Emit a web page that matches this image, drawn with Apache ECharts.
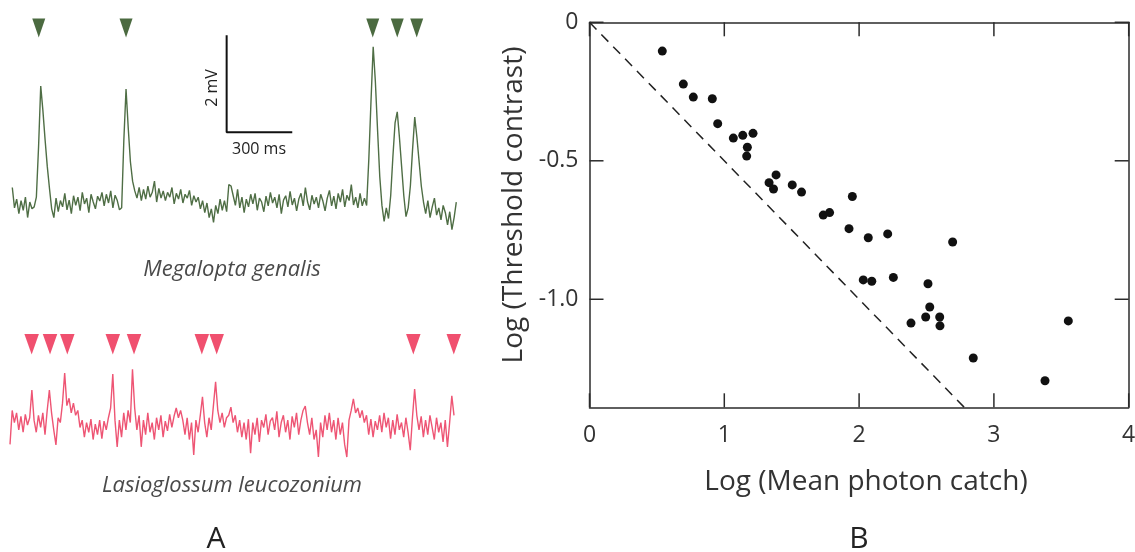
<!DOCTYPE html>
<html>
<head>
<meta charset="utf-8">
<script src="https://cdn.jsdelivr.net/npm/echarts@6/dist/echarts.min.js"></script>
<style>
html,body{margin:0;padding:0;background:#fff;}
#c{width:1135px;height:552px;}
</style>
</head>
<body>
<div id="c"></div>
<script>
// ---------- DATA ----------
// Panel A: membrane potential traces (mV relative to baseline), sampled every 10 ms
const traceStepMs = 10;
const megaloptaTrace = [
  0.32,-0.10,0.08,-0.22,0.05,-0.15,0.12,-0.30,0.02,-0.12,
  -0.08,0.12,1.15,2.41,1.90,1.30,0.75,0.30,-0.12,-0.30,
  0.10,-0.18,0.05,-0.08,0.20,-0.14,0.06,-0.22,0.15,-0.05,
  0.12,-0.16,0.22,-0.02,0.10,-0.20,0.18,0.02,-0.12,0.14,
  0.04,0.22,-0.06,0.18,0.00,0.25,-0.10,0.16,0.05,-0.14,
  -0.10,1.30,2.35,1.55,0.85,0.45,0.25,0.10,0.32,0.05,
  0.28,0.08,0.35,0.12,0.22,0.45,0.02,0.30,0.10,0.25,
  0.05,0.22,0.12,0.32,-0.02,0.20,0.08,0.28,0.00,0.18,
  0.10,0.26,-0.05,0.15,0.02,0.12,-0.12,0.05,-0.20,0.00,
  -0.30,-0.12,-0.40,-0.05,-0.22,0.08,-0.15,0.05,-0.18,0.38,
  0.35,0.15,-0.05,0.28,-0.10,0.12,-0.20,0.08,-0.08,0.18,
  -0.02,0.20,-0.15,0.10,0.02,-0.18,0.14,-0.06,0.22,0.00,
  0.12,-0.10,0.18,-0.22,0.06,0.15,-0.08,0.24,-0.04,0.10,
  -0.16,0.08,0.20,-0.06,0.32,0.02,-0.14,0.16,-0.02,0.12,
  -0.10,0.18,0.04,-0.16,0.10,0.26,-0.06,0.14,-0.12,0.20,
  0.02,0.28,-0.08,0.16,0.05,0.38,-0.04,0.12,-0.10,0.20,
  -0.06,0.10,-0.05,0.90,2.10,3.22,2.50,1.50,0.55,-0.05,
  -0.38,-0.10,-0.32,0.15,0.95,1.65,1.88,1.35,0.75,0.15,
  -0.28,-0.10,0.35,1.10,1.77,1.35,0.85,0.35,0.02,-0.22,
  0.05,-0.30,-0.08,0.10,-0.25,-0.10,-0.35,-0.05,-0.20,-0.45,
  -0.18,-0.55,-0.30,0.02
];
const lasioglossumTrace = [
  -0.40,0.30,0.05,0.25,-0.10,0.18,-0.15,0.22,0.00,0.15,
  0.72,0.10,-0.15,0.20,-0.05,0.25,-0.20,0.30,0.72,0.25,
  -0.10,-0.41,0.15,0.05,0.45,1.07,0.40,0.55,0.25,0.45,
  0.20,0.30,-0.05,0.10,-0.25,0.05,-0.15,0.12,-0.30,0.02,
  -0.20,0.10,-0.28,0.08,-0.10,0.15,0.35,1.05,0.10,-0.45,
  0.10,-0.25,0.25,-0.10,0.30,0.05,1.15,0.35,-0.10,0.20,
  -0.45,0.10,-0.20,0.25,-0.15,0.05,-0.30,0.15,-0.10,0.20,
  -0.25,0.08,-0.12,0.22,-0.05,0.18,0.35,0.15,0.30,0.10,
  -0.20,0.15,-0.30,0.05,-0.62,0.10,-0.15,0.20,0.58,0.05,
  -0.25,0.15,-0.10,0.40,0.89,0.30,0.05,0.25,-0.05,0.15,
  0.20,0.37,0.05,0.20,-0.15,0.10,-0.25,0.05,-0.30,0.12,
  -0.58,0.05,-0.20,0.15,-0.35,0.10,-0.05,0.22,-0.20,0.08,
  0.15,-0.10,0.28,-0.25,0.05,0.20,-0.15,0.10,-0.30,0.18,
  -0.05,0.25,-0.20,0.10,0.30,0.39,0.05,-0.20,0.15,-0.30,
  -0.10,-0.66,0.05,-0.25,0.20,-0.10,0.25,-0.15,0.10,-0.30,
  0.15,-0.20,0.05,-0.40,-0.66,0.10,0.30,0.54,0.25,0.35,
  0.15,0.30,0.05,0.20,-0.20,0.12,-0.25,0.08,-0.10,0.20,
  -0.15,0.25,-0.05,0.15,-0.28,0.10,-0.20,0.22,-0.10,0.05,
  -0.25,0.15,-0.15,-0.52,0.15,0.74,0.20,-0.10,0.18,-0.25,
  0.10,-0.20,0.20,-0.05,-0.30,0.15,-0.15,0.05,-0.35,0.10,
  -0.45,0.05,0.60,0.20
];
// spike markers (ms)
const megaloptaSpikes = [121, 520, 1648, 1760, 1849];
const lasioglossumSpikes = [99, 183, 262, 470, 567, 877, 945, 1844, 2029];
// scale bar: 300 ms x 2 mV
const scaleBarMs = 300;
const scaleBarMv = 2;
const speciesNames = ['Megalopta genalis', 'Lasioglossum leucozonium'];
const panelLabels = ['A', 'B'];

// Panel B: log mean photon catch vs log threshold contrast
const logPhotonCatch = [
  0.540,0.696,0.770,0.911,0.951,1.067,1.137,1.213,1.171,1.166,
  1.332,1.384,1.365,1.504,1.573,1.950,1.734,1.781,1.925,2.068,
  2.212,2.694,2.031,2.094,2.254,2.511,2.524,2.385,2.494,2.598,
  2.600,2.847,3.379,3.552
];
const logThresholdContrast = [
  -0.104,-0.223,-0.270,-0.276,-0.366,-0.418,-0.408,-0.401,-0.451,-0.483,
  -0.579,-0.551,-0.602,-0.587,-0.613,-0.629,-0.696,-0.687,-0.745,-0.778,
  -0.764,-0.793,-0.930,-0.935,-0.921,-0.944,-1.028,-1.086,-1.064,-1.064,
  -1.096,-1.212,-1.294,-1.078
];
const refLineX = [0, 2.78];
const refLineY = [0, -1.39];
const xTickValues = [0, 1, 2, 3, 4];
const xTickLabels = ['0', '1', '2', '3', '4'];
const yTickValues = [0, -0.5, -1.0];
const yTickLabels = ['0', '-0.5', '-1.0'];
const xTitle = 'Log (Mean photon catch)';
const yTitle = 'Log (Threshold contrast)';

// ---------- CHART ----------
const GREEN = '#4f6e45';
const PINK = '#ee5574';
const AX = '#2b2b2b';
const FONT = '"Open Sans", "Noto Sans", sans-serif';
const X_MIN = 0, X_MAX = 4, Y_MIN = -1.39, Y_MAX = 0;
const PLOT = {left: 589.5, top: 22.3, width: 539.2, height: 385};
const TICK_LEN = 14; // px
const tickDX = TICK_LEN * (X_MAX - X_MIN) / PLOT.width;   // px -> data units
const tickDY = TICK_LEN * (Y_MAX - Y_MIN) / PLOT.height;

const greenData = megaloptaTrace.map((v, i) => [i * traceStepMs, v]);
const pinkData = lasioglossumTrace.map((v, i) => [i * traceStepMs, v]);
const scatterData = logPhotonCatch.map((x, i) => [x, logThresholdContrast[i]]);
const refData = refLineX.map((x, i) => [x, refLineY[i]]);
const sbX = 980, sbY = 1.458;
const scaleBarData = [[sbX, sbY + scaleBarMv], [sbX, sbY], [sbX + scaleBarMs, sbY]];

function axLine() { return {show: true, onZero: false, lineStyle: {color: AX, width: 1.5}}; }

// inward tick marks on all four sides, drawn as short segments in data space
const tickSeries = [];
function tickSeg(a, b) {
  tickSeries.push({type: 'line', xAxisIndex: 2, yAxisIndex: 2, data: [a, b], symbol: 'none',
    lineStyle: {color: AX, width: 1.5}, silent: true, z: 4, clip: false});
}
xTickValues.forEach(v => {
  tickSeg([v, Y_MIN], [v, Y_MIN + tickDY]);
  tickSeg([v, Y_MAX], [v, Y_MAX - tickDY]);
});
yTickValues.forEach(v => {
  tickSeg([X_MIN, v], [X_MIN + tickDX, v]);
  tickSeg([X_MAX, v], [X_MAX - tickDX, v]);
});

const chart = echarts.init(document.getElementById('c'));
chart.setOption({
  animation: false,
  backgroundColor: '#fff',
  grid: [
    {left: 12.3, top: 9, width: 444, height: 242.5, outerBoundsMode: 'none', containLabel: false},
    {left: 10, top: 279.5, width: 444, height: 194, outerBoundsMode: 'none', containLabel: false},
    Object.assign({outerBoundsMode: 'none', containLabel: false}, PLOT)
  ],
  xAxis: [
    {gridIndex: 0, type: 'value', min: 0, max: 2030, show: false},
    {gridIndex: 1, type: 'value', min: 0, max: 2030, show: false},
    {gridIndex: 2, type: 'value', min: X_MIN, max: X_MAX, interval: 1, position: 'bottom',
      axisLine: axLine(), axisTick: {show: false}, splitLine: {show: false},
      axisLabel: {fontSize: 23, fontFamily: FONT, color: '#333', margin: 17,
        formatter: v => xTickLabels[xTickValues.indexOf(v)]}},
    {gridIndex: 2, type: 'value', min: X_MIN, max: X_MAX, interval: 1, position: 'top',
      axisLine: axLine(), axisTick: {show: false}, splitLine: {show: false}, axisLabel: {show: false}}
  ],
  yAxis: [
    {gridIndex: 0, type: 'value', min: -1, max: 4, show: false},
    {gridIndex: 1, type: 'value', min: -1, max: 3, show: false},
    {gridIndex: 2, type: 'value', min: Y_MIN, max: Y_MAX, position: 'left',
      axisLine: axLine(), splitLine: {show: false}, axisTick: {show: false},
      axisLabel: {customValues: yTickValues, fontSize: 23, fontFamily: FONT, color: '#333', margin: 11,
        formatter: v => {
          let best = 0;
          yTickValues.forEach((t, i) => { if (Math.abs(t - v) < Math.abs(yTickValues[best] - v)) best = i; });
          return yTickLabels[best];
        }}},
    {gridIndex: 2, type: 'value', min: Y_MIN, max: Y_MAX, position: 'right',
      axisLine: axLine(), splitLine: {show: false}, axisTick: {show: false}, axisLabel: {show: false}}
  ],
  series: [
    {type: 'line', xAxisIndex: 0, yAxisIndex: 0, data: greenData, symbol: 'none',
      lineStyle: {color: GREEN, width: 1.4}, silent: true},
    {type: 'scatter', xAxisIndex: 0, yAxisIndex: 0,
      data: megaloptaSpikes.map(t => [t, 3.61]),
      symbol: 'triangle', symbolRotate: 180, symbolSize: [13, 19],
      itemStyle: {color: '#4b6a40', opacity: 1}, silent: true},
    {type: 'line', xAxisIndex: 0, yAxisIndex: 0, data: scaleBarData, symbol: 'none',
      lineStyle: {color: '#111', width: 2}, silent: true},
    {type: 'line', xAxisIndex: 1, yAxisIndex: 1, data: pinkData, symbol: 'none',
      lineStyle: {color: PINK, width: 1.4}, silent: true},
    {type: 'scatter', xAxisIndex: 1, yAxisIndex: 1,
      data: lasioglossumSpikes.map(t => [t, 1.664]),
      symbol: 'triangle', symbolRotate: 180, symbolSize: [14.5, 20.5],
      itemStyle: {color: '#f0506f', opacity: 1}, silent: true},
    {type: 'line', xAxisIndex: 2, yAxisIndex: 2, data: refData, symbol: 'none',
      lineStyle: {color: '#222', width: 1.5, type: [10, 7]}, silent: true},
    {type: 'scatter', xAxisIndex: 2, yAxisIndex: 2, data: scatterData,
      symbol: 'circle', symbolSize: 9, itemStyle: {color: '#111', opacity: 1}, silent: true}
  ].concat(tickSeries),
  graphic: [
    {type: 'text', x: 866, y: 482, style: {text: xTitle, font: '28px ' + FONT, fill: '#333', align: 'center', verticalAlign: 'middle'}},
    {type: 'text', x: 514, y: 205, rotation: Math.PI / 2, style: {text: yTitle, font: '28px ' + FONT, fill: '#333', align: 'center', verticalAlign: 'middle'}},
    {type: 'text', x: 212, y: 88, rotation: Math.PI / 2, style: {text: scaleBarMv + ' mV', font: '16px ' + FONT, fill: '#222', align: 'center', verticalAlign: 'middle'}},
    {type: 'text', x: 259, y: 149, style: {text: scaleBarMs + ' ms', font: '16px ' + FONT, fill: '#222', align: 'center', verticalAlign: 'middle'}},
    {type: 'text', x: 232, y: 270, style: {text: speciesNames[0], font: 'italic 22px ' + FONT, fill: '#4a4a4a', align: 'center', verticalAlign: 'middle'}},
    {type: 'text', x: 232, y: 486, style: {text: speciesNames[1], font: 'italic 22px ' + FONT, fill: '#4a4a4a', align: 'center', verticalAlign: 'middle'}},
    {type: 'text', x: 216, y: 539, style: {text: panelLabels[0], font: '30px ' + FONT, fill: '#222', align: 'center', verticalAlign: 'middle'}},
    {type: 'text', x: 859, y: 539, style: {text: panelLabels[1], font: '30px ' + FONT, fill: '#222', align: 'center', verticalAlign: 'middle'}}
  ]
});
</script>
</body>
</html>
